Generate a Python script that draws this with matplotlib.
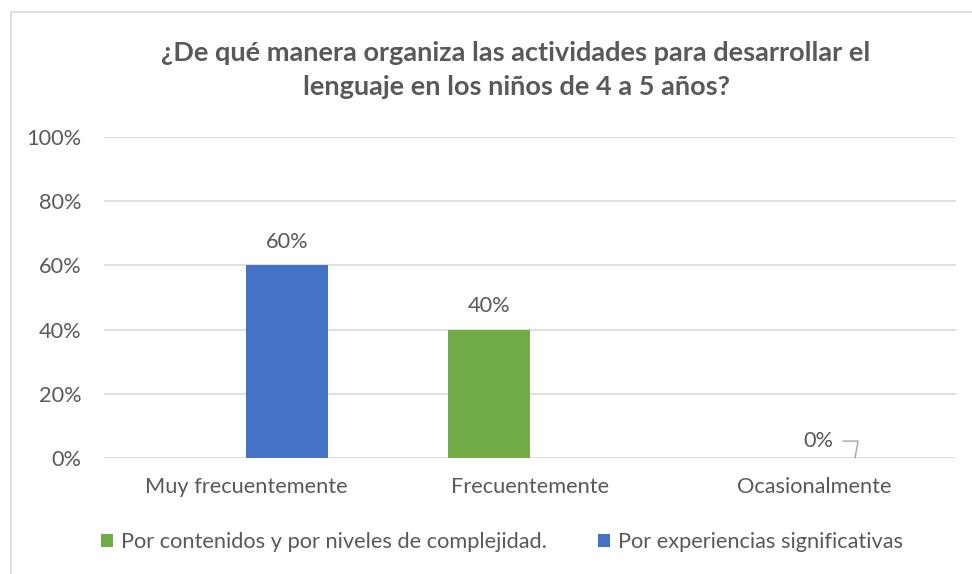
import matplotlib
matplotlib.use("Agg")
import matplotlib.pyplot as plt
from matplotlib.patches import Rectangle
from matplotlib.ticker import FuncFormatter

plt.rcParams['font.family'] = ['Lato', 'DejaVu Sans']

title = "¿De qué manera organiza las actividades para desarrollar el\nlenguaje en los niños de 4 a 5 años?"
categories = ["Muy frecuentemente", "Frecuentemente", "Ocasionalmente"]
series_names = ["Por contenidos y por niveles de complejidad.", "Por experiencias significativas"]
green_vals = [0, 40, 0]
blue_vals = [60, 0, 0]
green_labels = [None, "40%", None]
blue_labels = ["60%", None, "0%"]
yticks = [0, 20, 40, 60, 80, 100]

GREEN = "#70AD47"
BLUE = "#4472C4"
TXT = "#595959"
GRID = "#D9D9D9"
FS = 15.7

W, H = 972, 574
fig = plt.figure(figsize=(W / 100, H / 100), dpi=100)
fig.patch.set_facecolor("white")

# chart border
fig.patches.append(Rectangle((11 / W, -0.05), 1.2, 1 - 12 / H + 0.05,
                             transform=fig.transFigure, fill=False,
                             edgecolor="#D9D9D9", linewidth=1.2, zorder=0))

ax = fig.add_axes([104 / W, 1 - 458 / H, (956 - 104) / W, (458 - 137) / H])
x = list(range(len(categories)))
bw = 0.289
b1 = ax.bar([i - bw / 2 for i in x], green_vals, width=bw, color=GREEN,
            label=series_names[0], zorder=3)
b2 = ax.bar([i + bw / 2 for i in x], blue_vals, width=bw, color=BLUE,
            label=series_names[1], zorder=3)

ax.set_xlim(-0.5, 2.5)
ax.set_ylim(0, 100)
ax.set_yticks(yticks)
ax.yaxis.set_major_formatter(FuncFormatter(lambda v, p: f"{int(v)}%"))
ax.set_xticks(x)
ax.set_xticklabels(categories)
ax.tick_params(axis="both", length=0, labelsize=FS, labelcolor=TXT)
ax.tick_params(axis="y", pad=16)
ax.tick_params(axis="x", pad=14)
ax.grid(axis="y", color=GRID, linewidth=1.2, zorder=0)
for s in ax.spines.values():
    s.set_visible(False)

# data labels
for bars, labs in ((b1, green_labels), (b2, blue_labels)):
    for rect, lab in zip(bars, labs):
        if lab is None:
            continue
        cx = rect.get_x() + rect.get_width() / 2
        h = rect.get_height()
        if h > 0:
            ax.annotate(lab, (cx, h), xytext=(0, 10), textcoords="offset points",
                        ha="center", va="bottom", fontsize=FS, color=TXT)
        else:
            ax.annotate(lab, (cx, h), xytext=(-26.6, 12.2), textcoords="offset points",
                        ha="center", va="center", fontsize=FS, color=TXT,
                        arrowprops=dict(arrowstyle="-", color="#A6A6A6", lw=1,
                                        shrinkA=5, shrinkB=0,
                                        relpos=(1, 0.5),
                                        connectionstyle="angle,angleA=0,angleB=80,rad=0"))

fig.text(0.5 * (155 + 877) / W, 1 - 70 / H, title, ha="center", va="center",
         fontsize=19.5, fontweight="bold", color=TXT, linespacing=1.5)

leg = fig.legend(handles=[b1, b2], loc="center", bbox_to_anchor=(502 / W, 1 - 542 / H),
                 ncol=2, frameon=False, fontsize=FS, handlelength=0.55,
                 handleheight=0.55, handletextpad=0.4, columnspacing=2.3,
                 labelcolor=TXT)

fig.savefig("out.png", dpi=100, facecolor="white")
